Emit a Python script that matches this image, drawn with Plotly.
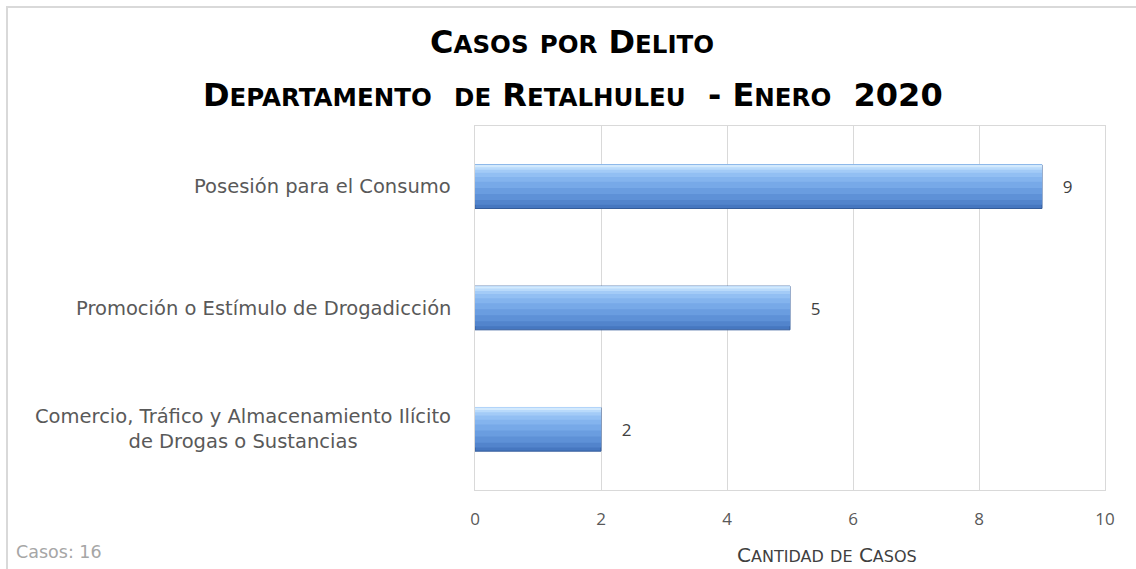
import plotly.graph_objects as go

# ---- data ----
categories = [
    "Comercio, Tráfico y Almacenamiento Ilícito<br>de Drogas o Sustancias",
    "Promoción o Estímulo de Drogadicción",
    "Posesión para el Consumo",
]
casos = [2, 5, 9]
total_label = "Casos: 16"
x_ticks = [0, 2, 4, 6, 8, 10]

W, H = 1136, 569
L, R, T, B = 475, 1105, 126, 490  # plot area in pixels


def px(x):
    return (x - L) / (R - L)


def py(y):
    return (B - y) / (B - T)


TFONT = "DejaVu Sans, sans-serif"
LBL_FONT = "DejaVu Sans, sans-serif"
TICK_FONT = "Open Sans, sans-serif"

fig = go.Figure()

# gradient simulation via overlaid bars (base -> lighter top layers)
layers = [
    (-0.18, 0.36, "#4677c0", "#345c9a", 1),
    (-0.15, 0.33, "#5284cc", None, 0),
    (-0.11, 0.29, "#5e91d7", None, 0),
    (-0.06, 0.24, "#6a9de0", None, 0),
    (-0.01, 0.19, "#77a9e8", None, 0),
    (0.04, 0.14, "#84b4ee", None, 0),
    (0.08, 0.10, "#92bff3", None, 0),
    (0.115, 0.065, "#a3cbf7", None, 0),
    (0.14, 0.04, "#b9dafb", None, 0),
    (0.16, 0.018, "#d2e9fd", None, 0),
]
for i, (off, wid, col, lc, lw) in enumerate(layers):
    fig.add_trace(go.Bar(
        x=casos, y=categories, orientation="h",
        offset=off, width=wid,
        marker=dict(color=col, line=dict(color=lc or col, width=lw)),
        texttemplate="    %{x}" if i == 0 else None,
        textposition="outside" if i == 0 else "none",
        textfont=dict(family=TICK_FONT, size=17, color="#404040"),
        cliponaxis=False,
        hoverinfo="skip",
        showlegend=False,
    ))

annotations = []
for c in categories:
    annotations.append(dict(
        x=0, xref="paper", y=c, yref="y", xanchor="right", yanchor="middle",
        xshift=-22, align="center", showarrow=False, text=c,
        font=dict(family=LBL_FONT, size=19.5, color="#595959"),
    ))


def smallcaps(s, big, small):
    out = []
    for ch in s:
        if ch.islower():
            out.append(f"<span style='font-size:{small}px'>{ch.upper()}</span>")
        elif ch == " ":
            out.append(f"<span style='font-size:{big}px'>&nbsp;</span>")
        else:
            out.append(f"<span style='font-size:{big}px'>{ch}</span>")
    return "".join(out)


annotations.append(dict(
    x=px(572), y=py(42), xref="paper", yref="paper", showarrow=False,
    text="<b>" + smallcaps("Casos por Delito", 32, 24.5) + "</b>",
    font=dict(family=TFONT, color="#000000"), xanchor="center", yanchor="middle",
))
annotations.append(dict(
    x=px(573), y=py(95), xref="paper", yref="paper", showarrow=False,
    text="<b>" + smallcaps("Departamento  de Retalhuleu  - Enero  2020", 32, 24.5) + "</b>",
    font=dict(family=TFONT, color="#000000"), xanchor="center", yanchor="middle",
))
annotations.append(dict(
    x=px(827), y=py(555), xref="paper", yref="paper", showarrow=False,
    text=smallcaps("Cantidad de Casos", 20, 16),
    font=dict(family=LBL_FONT, color="#404040"), xanchor="center", yanchor="middle",
))
annotations.append(dict(
    x=px(14), y=py(552), xref="paper", yref="paper", showarrow=False,
    text=total_label, xanchor="left", yanchor="middle",
    font=dict(family=LBL_FONT, size=17.5, color="#a6a6a6"),
))

fig.update_layout(
    width=W, height=H,
    margin=dict(l=L, r=W - R, t=T, b=H - B, pad=0),
    paper_bgcolor="white", plot_bgcolor="white",
    barmode="overlay",
    annotations=annotations,
    shapes=[dict(type="rect", xref="paper", yref="paper",
                 x0=px(7), x1=px(1145), y0=py(7), y1=py(580),
                 line=dict(color="#d9d9d9", width=2), layer="below")],
    xaxis=dict(range=[0, 10], tickvals=x_ticks, showgrid=True, gridcolor="#d9d9d9",
               gridwidth=1, showline=True, linecolor="#d9d9d9", mirror=True,
               zeroline=False, ticks="", ticklabelstandoff=14,
               tickfont=dict(family=TICK_FONT, size=17, color="#595959")),
    yaxis=dict(showticklabels=False, showline=True, linecolor="#d9d9d9", mirror=True,
               showgrid=False, ticks="", categoryorder="array", categoryarray=categories),
)

fig.write_html("out.html", config={"displayModeBar": False},
               post_script="document.body.style.margin='0';")
